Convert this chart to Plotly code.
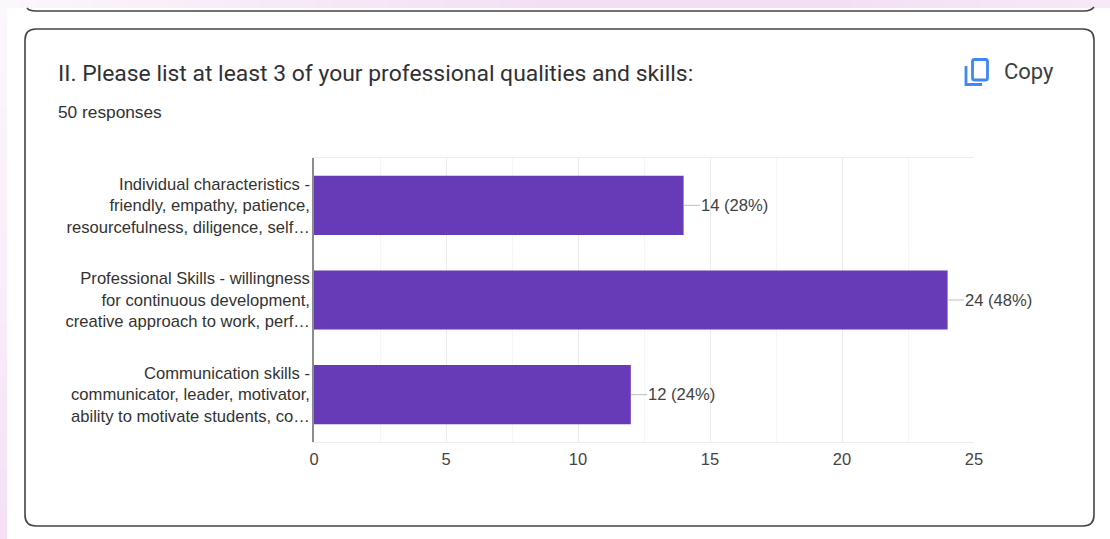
import plotly.graph_objects as go

W, H = 1110, 539
L, R, T, B = 314, 974, 158, 442

categories = [
    "Individual characteristics -<br>friendly, empathy, patience,<br>resourcefulness, diligence, self…",
    "Professional Skills - willingness<br>for continuous development,<br>creative approach to work, perf…",
    "Communication skills -<br>communicator, leader, motivator,<br>ability to motivate students, co…",
]
values = [14, 24, 12]
value_labels = ["14 (28%)", "24 (48%)", "12 (24%)"]
x_ticks = [0, 5, 10, 15, 20, 25]
title = "II. Please list at least 3 of your professional qualities and skills:"
subtitle = "50 responses"
copy_label = "Copy"

def px(x):
    return (x - L) / (R - L)

def py(y):
    return 1 - (y - T) / (B - T)

def rrect(x0, y0, x1, y1, r):
    c = [
        (x0 + r, y0), (x1 - r, y0), (x1, y0), (x1, y0 + r), (x1, y1 - r), (x1, y1),
        (x1 - r, y1), (x0 + r, y1), (x0, y1), (x0, y1 - r), (x0, y0 + r), (x0, y0), (x0 + r, y0),
    ]
    p = [(px(a), py(b)) for a, b in c]
    s = f"M{p[0][0]},{p[0][1]} L{p[1][0]},{p[1][1]} Q{p[2][0]},{p[2][1]} {p[3][0]},{p[3][1]} "
    s += f"L{p[4][0]},{p[4][1]} Q{p[5][0]},{p[5][1]} {p[6][0]},{p[6][1]} "
    s += f"L{p[7][0]},{p[7][1]} Q{p[8][0]},{p[8][1]} {p[9][0]},{p[9][1]} "
    s += f"L{p[10][0]},{p[10][1]} Q{p[11][0]},{p[11][1]} {p[12][0]},{p[12][1]} Z"
    return s

def poly(points):
    return "M" + " L".join(f"{px(a)},{py(b)}" for a, b in points)

def blend(stops, t):
    t *= len(stops) - 1
    i = min(int(t), len(stops) - 2)
    f = t - i
    a, b = stops[i], stops[i + 1]
    return "rgb(%d,%d,%d)" % tuple(round(a[k] + (b[k] - a[k]) * f) for k in range(3))

shapes = []
# page background strips: a smooth pale pink wash, bands overlapping to hide seams
top_stops = [(252, 247, 252), (247, 234, 248), (243, 223, 244), (243, 223, 244), (247, 233, 248)]
steps = 60
for i in range(steps):
    shapes.append(dict(type="rect", xref="paper", yref="paper", layer="below",
                       x0=px(W * i / steps), x1=px(W * (i + 1) / steps + 3), y0=py(8), y1=py(0),
                       fillcolor=blend(top_stops, (i + 0.5) / steps), line_width=0))
left_stops = [(252, 247, 252), (249, 238, 250), (245, 223, 246)]
steps = 30
for i in range(steps):
    shapes.append(dict(type="rect", xref="paper", yref="paper", layer="below",
                       x0=px(0), x1=px(7), y0=py(H * (i + 1) / steps + 3), y1=py(H * i / steps),
                       fillcolor=blend(left_stops, (i + 0.5) / steps), line_width=0))
# previous card bottom edge
shapes.append(dict(type="path", xref="paper", yref="paper", layer="below",
                   path=poly([(27, 8), (27, 8)]) + " Q%f,%f %f,%f L%f,%f Q%f,%f %f,%f" % (
                       px(29), py(11), px(36), py(11), px(1084), py(11), px(1091), py(11), px(1094), py(7)),
                   line=dict(color="#444444", width=1.5)))
# card outline
shapes.append(dict(type="path", xref="paper", yref="paper", layer="below",
                   path=rrect(25, 29, 1094, 526, 11), line=dict(color="#444444", width=1.6)))
# copy icon
shapes.append(dict(type="path", xref="paper", yref="paper",
                   path=rrect(972.5, 59.5, 987.5, 80, 2), line=dict(color="#3f87f5", width=2.8)))
shapes.append(dict(type="path", xref="paper", yref="paper",
                   path=poly([(966, 66), (966, 84.5), (982, 84.5)]), line=dict(color="#3f87f5", width=2.8)))

fig = go.Figure(go.Bar(
    x=values, y=categories, orientation="h",
    marker=dict(color="#673ab7", line_width=0),
    error_x=dict(type="data", symmetric=False, array=[0.62] * len(values), arrayminus=[0] * len(values),
                 color="#bdbdbd", thickness=1, width=0),
    hoverinfo="skip",
))

annotations = [
    dict(x=v, y=c, text=t, xref="x", yref="y", xanchor="left", yanchor="middle", xshift=15, showarrow=False,
         font=dict(family="Liberation Sans", size=16.6, color="#424242"))
    for v, c, t in zip(values, categories, value_labels)
]
annotations += [
    dict(x=px(56), y=py(73), xref="paper", yref="paper", text=title, xanchor="left", yanchor="middle",
         showarrow=False, font=dict(family="Roboto", size=22.9, color="#303134")),
    dict(x=px(56), y=py(112), xref="paper", yref="paper", text=subtitle, xanchor="left", yanchor="middle",
         showarrow=False, font=dict(family="Liberation Sans", size=17.3, color="#303134")),
    dict(x=px(1002), y=py(71), xref="paper", yref="paper", text=copy_label, xanchor="left", yanchor="middle",
         showarrow=False, font=dict(family="Roboto", size=22, color="#3c4043")),
]

fig.update_layout(
    width=W, height=H, autosize=False,
    margin=dict(l=L, r=W - R, t=T, b=H - B, pad=0),
    paper_bgcolor="#ffffff", plot_bgcolor="#ffffff",
    showlegend=False, bargap=0.375,
    shapes=shapes, annotations=annotations,
    xaxis=dict(range=[0, 25], tickmode="array", tickvals=x_ticks, ticks="", zeroline=False,
               showgrid=True, gridcolor="#ebebeb", gridwidth=1,
               minor=dict(tickmode="array", tickvals=[2.5, 7.5, 12.5, 17.5, 22.5], showgrid=True,
                          gridcolor="#f5f5f5", gridwidth=1),
               showline=True, linecolor="#eeeeee", linewidth=1, mirror=True,
               tickfont=dict(family="Liberation Sans", size=16.5, color="#444444"), ticklabelstandoff=2),
    yaxis=dict(categoryorder="array", categoryarray=categories[::-1], showgrid=False, zeroline=False,
               ticks="", showline=True, linecolor="#8c8c8c", linewidth=1.5, layer="above traces",
               tickfont=dict(family="Liberation Sans", size=16.6, color="#333333"), ticklabelstandoff=-1),
)

fig.write_html("out.html", config={"displayModeBar": False},
               post_script="document.body.style.margin='0';document.body.style.overflow='hidden';")
